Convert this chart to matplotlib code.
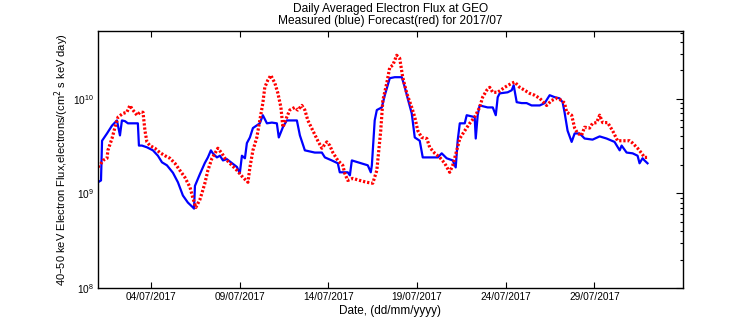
import numpy as np
import pandas as pd
import matplotlib
matplotlib.use('Agg')
import matplotlib.pyplot as plt
import matplotlib.dates as mdates

plt.rcParams['font.family'] = ['Liberation Sans', 'DejaVu Sans']

# days since 01/07/2017 00:00, flux in units of 1e9 electrons/(cm2 s keV day)
blue_days = [0.0, 0.17, 0.23, 0.51, 0.79, 1.07, 1.24, 1.35, 1.52, 1.69,
             2.25, 2.31, 2.48, 2.76, 3.10, 3.38, 3.61, 3.89, 4.23, 4.51,
             4.79, 5.07, 5.36, 5.42, 5.47, 5.75, 5.92, 6.03, 6.20, 6.37,
             6.48, 6.71, 6.88, 7.05, 7.27, 7.84, 8.00, 8.12, 8.29, 8.40,
             8.57, 8.74, 9.13, 9.30, 9.53, 9.81, 10.09, 10.20, 10.43, 10.65,
             11.22, 11.39, 11.67, 12.23, 12.63, 12.80, 13.19, 13.53, 13.64, 14.09,
             14.21, 14.32, 14.66, 15.22, 15.39, 15.45, 15.61, 15.73, 16.01, 16.18,
             16.46, 16.74, 17.14, 17.31, 17.47, 17.70, 17.87, 18.15, 18.32, 18.60,
             19.17, 19.39, 19.67, 20.01, 20.18, 20.29, 20.41, 20.69, 20.80, 21.25,
             21.31, 21.42, 21.53, 21.98, 22.27, 22.44, 22.55, 22.66, 23.11, 23.34,
             23.45, 23.62, 23.90, 24.18, 24.46, 24.92, 25.20, 25.48, 25.76, 26.04,
             26.21, 26.32, 26.49, 26.72, 26.89, 27.17, 27.45, 27.90, 28.30, 28.69,
             29.14, 29.43, 29.54, 29.82, 30.16, 30.44, 30.55, 30.72, 30.83, 31.00]
blue_flux = [1.31, 1.37, 3.6, 4.3, 5.2, 5.9, 4.1, 5.9, 5.8, 5.5,
             5.5, 3.2, 3.2, 3.07, 2.85, 2.5, 2.13, 1.98, 1.65, 1.31,
             0.95, 0.80, 0.71, 0.69, 1.2, 1.6, 1.88, 2.1, 2.4, 2.85,
             2.65, 2.4, 2.5, 2.23, 2.3, 1.9, 1.63, 2.5, 2.35, 3.4,
             3.9, 4.9, 5.5, 6.7, 5.5, 5.6, 5.5, 3.9, 5.0, 5.9,
             5.9, 4.1, 2.85, 2.7, 2.7, 2.4, 2.23, 2.08, 1.67, 1.67,
             1.55, 2.23, 2.13, 1.98, 1.67, 1.98, 5.9, 7.6, 8.1, 10.9,
             16.5, 16.9, 16.9, 13.2, 10.1, 7.0, 3.9, 3.6, 2.4, 2.4,
             2.4, 2.65, 2.35, 2.23, 1.88, 3.6, 5.5, 5.5, 6.7, 6.4,
             3.8, 6.7, 8.5, 8.1, 8.1, 6.7, 10.4, 11.4, 11.7, 12.3,
             13.9, 9.2, 9.0, 9.0, 8.5, 8.5, 9.0, 10.9, 10.4, 10.1,
             9.2, 7.2, 4.6, 3.5, 4.3, 4.3, 3.8, 3.7, 4.0, 3.8,
             3.5, 2.85, 3.2, 2.7, 2.65, 2.5, 2.08, 2.35, 2.23, 2.08]

red_days = [0.0, 0.11, 0.28, 0.51, 0.56, 0.79, 0.96, 1.13, 1.41, 1.63,
            1.80, 1.97, 2.20, 2.37, 2.54, 2.59, 2.65, 2.76, 2.93, 3.21,
            3.49, 3.78, 4.06, 4.34, 4.62, 4.90, 5.19, 5.36, 5.52, 5.75,
            5.86, 6.03, 6.20, 6.43, 6.60, 6.76, 6.99, 7.16, 7.44, 7.84,
            8.17, 8.46, 8.57, 8.74, 8.96, 9.13, 9.30, 9.41, 9.58, 9.75,
            9.98, 10.15, 10.32, 10.43, 10.65, 10.82, 11.10, 11.27, 11.50, 11.67,
            11.84, 12.12, 12.40, 12.63, 12.91, 13.08, 13.25, 13.53, 13.81, 13.92,
            14.09, 14.37, 14.77, 15.16, 15.50, 15.73, 15.84, 15.95, 16.07, 16.29,
            16.46, 16.63, 16.85, 17.02, 17.19, 17.42, 17.70, 17.87, 18.04, 18.26,
            18.55, 18.71, 19.00, 19.28, 19.56, 19.84, 20.01, 20.24, 20.41, 20.69,
            20.97, 21.25, 21.53, 21.70, 21.93, 22.10, 22.27, 22.55, 22.94, 23.34,
            23.51, 23.79, 24.07, 24.35, 24.63, 24.92, 25.31, 25.59, 25.87, 26.16,
            26.32, 26.44, 26.72, 26.89, 27.06, 27.28, 27.45, 27.73, 27.90, 28.13,
            28.30, 28.47, 28.75, 29.03, 29.31, 29.71, 29.99, 30.16, 30.44, 30.67,
            30.83, 31.00]
red_flux = [1.9, 1.98, 2.23, 2.35, 2.85, 3.8, 5.0, 6.4, 7.0, 7.2,
            8.5, 7.6, 6.7, 7.2, 7.2, 5.9, 4.6, 3.5, 3.2, 3.0,
            2.7, 2.5, 2.35, 2.08, 1.75, 1.48, 1.16, 0.885, 0.71, 0.86,
            1.0, 1.28, 1.75, 2.35, 2.65, 3.0, 2.65, 2.35, 2.08, 1.75,
            1.48, 1.31, 1.88, 2.85, 3.9, 5.9, 9.0, 13.2, 15.7, 17.7,
            14.6, 11.4, 8.1, 5.0, 6.4, 7.6, 8.1, 7.6, 8.5, 7.6,
            5.9, 4.6, 3.6, 3.0, 3.5, 3.2, 2.7, 2.23, 1.98, 1.63,
            1.37, 1.44, 1.37, 1.31, 1.28, 1.75, 2.85, 4.6, 9.6, 14.6,
            21.5, 22.6, 28.8, 26.8, 16.9, 11.4, 8.1, 6.4, 4.6, 3.9,
            3.8, 3.07, 2.65, 2.4, 2.08, 1.67, 1.98, 2.85, 3.8, 4.6,
            5.5, 6.4, 8.1, 10.4, 12.3, 13.2, 11.7, 11.7, 13.2, 14.6,
            15.0, 13.2, 12.3, 11.4, 10.9, 10.1, 8.5, 9.6, 10.1, 9.6,
            9.0, 7.2, 6.7, 4.9, 4.3, 4.1, 5.0, 4.9, 5.5, 5.6,
            6.7, 5.6, 5.6, 4.6, 3.6, 3.6, 3.6, 3.4, 3.0, 2.65,
            2.4, 2.4]

tick_dates = ['2017-07-04', '2017-07-09', '2017-07-14', '2017-07-19', '2017-07-24', '2017-07-29']

start = pd.Timestamp('2017-07-01')
bx = start + pd.to_timedelta(blue_days, unit='D')
rx = start + pd.to_timedelta(red_days, unit='D')
by = np.array(blue_flux) * 1e9
ry = np.array(red_flux) * 1e9

fig = plt.figure(figsize=(7.56, 3.24), dpi=100)
ax = fig.add_axes([0.1296, 0.1111, 0.7738, 0.7932])

ax.plot(bx, by, color='#0000ff', lw=1.6)
ax.plot(rx, ry, color='#ff0000', lw=2.3, linestyle=(0, (0.7, 0.6)))

ax.set_yscale('log')
ax.set_ylim(1e8, 5.2e10)
ax.set_xlim(start, pd.Timestamp('2017-08-03'))
ax.set_xticks(pd.to_datetime(tick_dates))
ax.xaxis.set_major_formatter(mdates.DateFormatter('%d/%m/%Y'))

ax.tick_params(axis='x', which='both', direction='in', top=True, bottom=True,
               length=4, width=0.8, labelsize=7.3, pad=3)
ax.tick_params(axis='y', which='major', direction='in', left=False, right=True,
               length=5, width=0.8, labelsize=7.3, pad=3)
ax.tick_params(axis='y', which='minor', direction='in', left=False, right=True,
               length=2.5, width=0.8)
for s in ax.spines.values():
    s.set_linewidth(1.0)

ax.set_title('Daily Averaged Electron Flux at GEO\nMeasured (blue) Forecast(red) for 2017/07',
             fontsize=8.6, linespacing=1.05, pad=5)
ax.set_xlabel('Date, (dd/mm/yyyy)', fontsize=8.5, labelpad=2)
ax.set_ylabel('40\u201350 keV Electron Flux,electrons/(cm$^2$ s keV day)', fontsize=8, labelpad=1)

fig.savefig('out.png', dpi=100)
